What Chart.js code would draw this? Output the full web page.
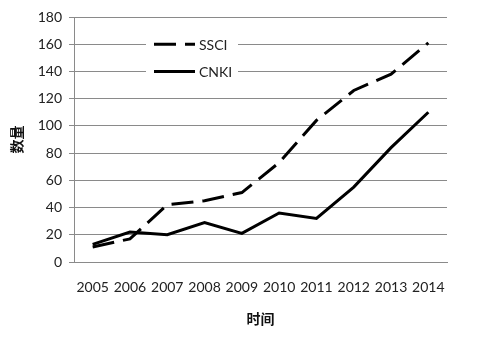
<!DOCTYPE html>
<html>
<head>
<meta charset="utf-8">
<script src="https://cdn.jsdelivr.net/npm/chart.js@4.4.1/dist/chart.umd.min.js"></script>
<style>
  html, body { margin: 0; padding: 0; background: #fff; }
  #wrap { width: 481px; height: 340px; }
</style>
</head>
<body>
<div id="wrap"><canvas id="chart" width="481" height="340"></canvas></div>
<script>
const years = ["2005", "2006", "2007", "2008", "2009", "2010", "2011", "2012", "2013", "2014"];
const ssciValues = [11, 17, 42, 45, 51, 73, 104, 126, 138, 161];
const cnkiValues = [13, 22, 20, 29, 21, 36, 32, 55, 84, 110];
const yTicks = [0, 20, 40, 60, 80, 100, 120, 140, 160, 180];

const tickFont = { family: "Lato", size: 14 };
const gridGray = "#8a8a8a";

// legend drawn inside the plot, over a white box (like the original)
const insideLegend = {
  id: "insideLegend",
  afterDatasetsDraw(chart) {
    const ctx = chart.ctx;
    const y = chart.scales.y;
    ctx.save();
    ctx.fillStyle = "#fff";
    ctx.fillRect(146, y.getPixelForValue(165), 92, y.getPixelForValue(135) - y.getPixelForValue(165));
    chart.data.datasets.forEach((ds, i) => {
      const py = y.getPixelForValue(160 - i * 20);
      ctx.strokeStyle = ds.borderColor;
      ctx.lineWidth = ds.borderWidth;
      ctx.setLineDash(ds.borderDash || []);
      ctx.beginPath();
      ctx.moveTo(154, py);
      ctx.lineTo(195, py);
      ctx.stroke();
      ctx.setLineDash([]);
      ctx.fillStyle = "#222";
      ctx.font = "14px Lato";
      ctx.textBaseline = "middle";
      ctx.fillText(ds.label, 199, py + 1);
    });
    ctx.restore();
  }
};

new Chart(document.getElementById("chart"), {
  type: "line",
  data: {
    labels: years,
    datasets: [
      {
        label: "SSCI",
        data: ssciValues,
        borderColor: "#000",
        borderWidth: 3,
        borderDash: [22, 9],
        pointRadius: 0,
        tension: 0,
        fill: false,
      },
      {
        label: "CNKI",
        data: cnkiValues,
        borderColor: "#000",
        borderWidth: 3,
        pointRadius: 0,
        tension: 0,
        fill: false,
      },
    ],
  },
  options: {
    responsive: false,
    animation: false,
    layout: { padding: { top: 17, right: 34, left: 4, bottom: 9 } },
    plugins: { legend: { display: false }, tooltip: { enabled: false } },
    scales: {
      x: {
        offset: true,
        grid: { display: false, drawTicks: false },
        border: { color: gridGray, width: 1 },
        ticks: { color: "#222", font: tickFont, padding: 17, maxRotation: 0, autoSkip: false },
        title: { display: true, text: "时间", color: "#111", font: { family: "Noto Sans CJK SC", size: 14, weight: "bold" }, padding: { top: 9 } },
        afterFit: (s) => { s.height = 340 - 262 - 9; },
      },
      y: {
        min: 0,
        max: 180,
        afterBuildTicks: (s) => { s.ticks = yTicks.map((v) => ({ value: v })); },
        grid: { color: gridGray, lineWidth: 1, drawTicks: true, tickLength: 5 },
        border: { color: gridGray, width: 1 },
        ticks: { color: "#222", font: tickFont, padding: 7 },
        title: { display: true, text: "数量", color: "#111", font: { family: "Noto Sans CJK SC", size: 14, weight: "bold" } },
        afterFit: (s) => { s.width = 70; },
      },
    },
  },
  plugins: [insideLegend],
});
</script>
</body>
</html>
